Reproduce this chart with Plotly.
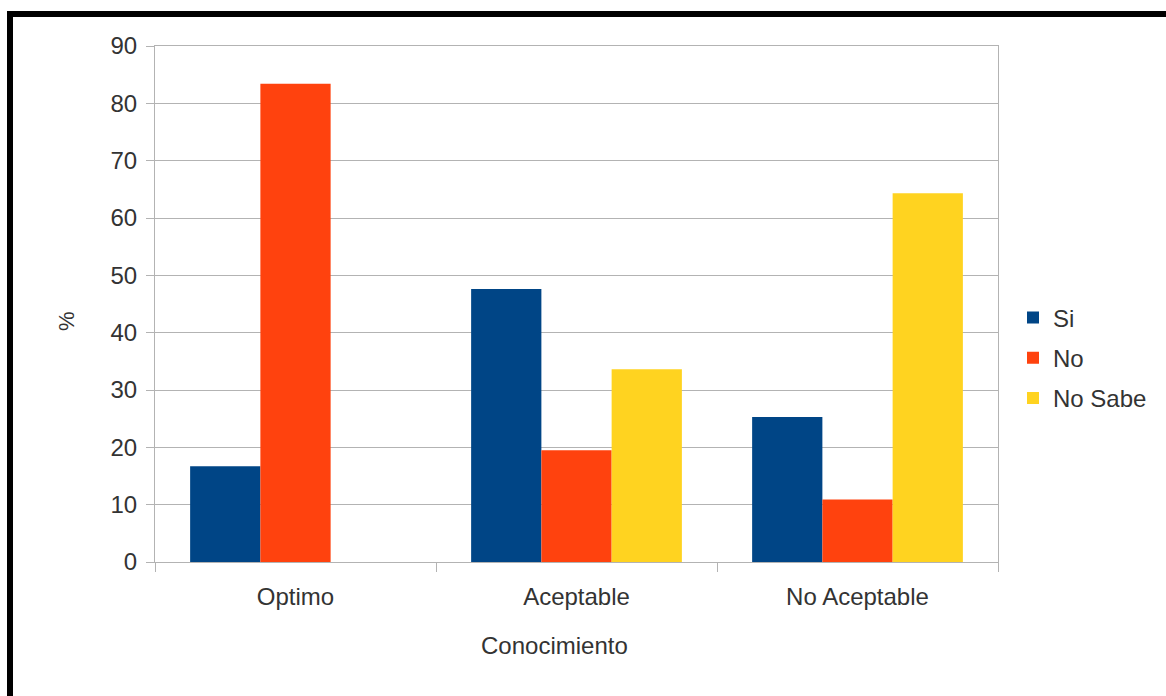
import plotly.graph_objects as go

# Survey results by knowledge level (%)
categories = ["Optimo", "Aceptable", "No Aceptable"]
si_values = [16.7, 47.6, 25.3]
no_values = [83.4, 19.5, 10.9]
no_sabe_values = [0, 33.6, 64.3]
series_names = ["Si", "No", "No Sabe"]
y_ticks = [0, 10, 20, 30, 40, 50, 60, 70, 80, 90]
x_title = "Conocimiento"
y_title = "%"

colors = ["#004586", "#ff420e", "#ffd320"]

W, H = 1166, 696
L, R, T, B = 155, 168, 46, 134
pw, ph = W - L - R, H - T - B


def px_x(px):
    return (px - L) / pw


def px_y(py):
    return (H - B - py) / ph


fig = go.Figure()
for name, vals, col in zip(series_names, [si_values, no_values, no_sabe_values], colors):
    fig.add_trace(go.Bar(name=name, x=categories, y=vals, legendgroup=name,
                         marker=dict(color=col, line=dict(width=0))))

grid = "#b3b3b3"
text_col = "#333333"
font = dict(family="Liberation Sans, Arial, sans-serif", size=24, color=text_col)

fig.update_layout(
    width=W, height=H,
    margin=dict(l=L, r=R, t=T, b=B, pad=0),
    paper_bgcolor="white", plot_bgcolor="white",
    barmode="group", bargap=0.25, bargroupgap=0,
    font=font,
    showlegend=True,
    legend=dict(x=px_x(1013), y=px_y(358), xanchor="left", yanchor="middle",
                font=dict(size=24, color=text_col), itemwidth=30,
                tracegroupgap=6, bgcolor="rgba(0,0,0,0)"),
    xaxis=dict(
        type="category", tickson="boundaries", ticks="outside", ticklen=9,
        tickcolor=grid, showgrid=False, showline=True, linecolor=grid, linewidth=1,
        mirror=True, tickfont=dict(size=24), ticklabelstandoff=13,
    ),
    yaxis=dict(
        range=[0, 90], tickvals=y_ticks, ticks="outside", ticklen=8, tickcolor=grid,
        showgrid=True, gridcolor=grid, gridwidth=1, showline=True, linecolor=grid,
        linewidth=1, mirror=True, zeroline=False, tickfont=dict(size=24),
        ticklabelstandoff=4,
    ),
)

# Axis titles
fig.add_annotation(text=x_title, xref="paper", yref="paper", x=px_x(554), y=px_y(645),
                   xanchor="center", yanchor="middle", showarrow=False,
                   font=dict(size=24, color=text_col))
fig.add_annotation(text=y_title, xref="paper", yref="paper", x=px_x(66), y=px_y(321),
                   xanchor="center", yanchor="middle", showarrow=False, textangle=-90,
                   font=dict(size=22, color=text_col))

# Frame along the top and left edges of the image
frame = [
    (px_x(7), px_y(11), px_x(13), px_y(H + 5)),
    (px_x(7), px_y(11), px_x(W + 5), px_y(17)),
]
for x0, y0, x1, y1 in frame:
    fig.add_shape(type="rect", xref="paper", yref="paper", x0=x0, y0=y0, x1=x1, y1=y1,
                  fillcolor="black", line=dict(width=0), layer="above")

fig.write_html("out.html")
